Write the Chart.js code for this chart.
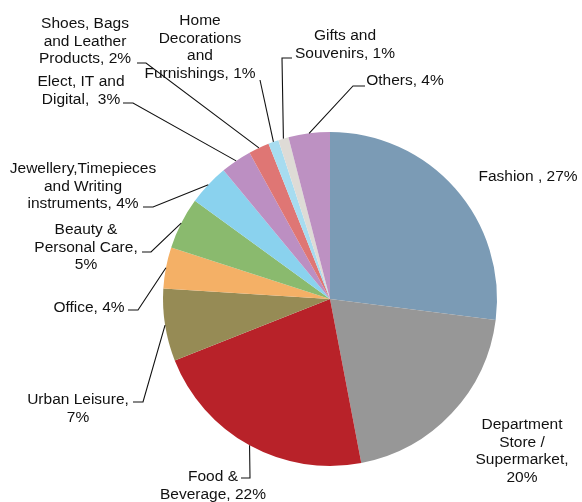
<!DOCTYPE html>
<html lang="en">
<head>
    <meta charset="UTF-8">
    <title>Retail mix</title>
    <script src="https://cdn.jsdelivr.net/npm/chart.js"></script>
    <style>
        body { margin: 0; background: #fff; }
        #wrap { width: 582px; height: 502px; }
    </style>
</head>
<body>
    <div id="wrap"><canvas id="grafico1" width="582" height="502"></canvas></div>

    <script>
        // categories and shares (%), clockwise from 12 o'clock
        const categorias = [
            "Fashion", "Department Store / Supermarket", "Food & Beverage", "Urban Leisure",
            "Office", "Beauty & Personal Care", "Jewellery,Timepieces and Writing instruments",
            "Elect, IT and Digital", "Shoes, Bags and Leather Products",
            "Home Decorations and Furnishings", "Gifts and Souvenirs", "Others"
        ];
        const valores = [27, 20, 22, 7, 4, 5, 4, 3, 2, 1, 1, 4];
        const cores = [
            "#7b9bb5", "#979797", "#b82229", "#968b55", "#f4b066", "#8aba6e",
            "#8ad2ee", "#bc8fc2", "#df7674", "#a7dcf0", "#dedbd6", "#bd91c2"
        ];

        // label text lines; the value is appended to the last line
        const rotulos = [
            ["Fashion , "],
            ["Department", "Store /", "Supermarket,", ""],
            ["Food &", "Beverage, "],
            ["Urban Leisure,", ""],
            ["Office, "],
            ["Beauty &", "Personal Care,", ""],
            ["Jewellery,Timepieces", "and Writing", "instruments, "],
            ["Elect, IT and", "Digital,  "],
            ["Shoes, Bags", "and Leather", "Products, "],
            ["Home", "Decorations", "and", "Furnishings, "],
            ["Gifts and", "Souvenirs, "],
            ["Others, "]
        ];

        // text centre x, first line y, leader elbow and tick end (null = no leader)
        const posRotulos = [
            { x: 528, y: 177, elbow: null },
            { x: 522, y: 425, elbow: null },
            { x: 213, y: 477, elbow: [250, 478], tick: [241, 478] },
            { x: 78,  y: 400, elbow: [143, 402], tick: [133, 402] },
            { x: 89,  y: 308, elbow: [138, 310], tick: [128, 310] },
            { x: 86,  y: 230, elbow: [151, 252], tick: [142, 252] },
            { x: 83,  y: 169, elbow: [153, 207], tick: [143, 207] },
            { x: 81,  y: 82,  elbow: [133, 103], tick: [123, 103] },
            { x: 85,  y: 24,  elbow: [146, 63],  tick: [137, 63] },
            { x: 200, y: 21,  elbow: [260, 80],  tick: null },
            { x: 345, y: 36,  elbow: [282, 58],  tick: [292, 58] },
            { x: 405, y: 81,  elbow: [353, 86],  tick: [365, 86] }
        ];

        const rotulosPlugin = {
            id: 'rotulos',
            afterDraw(chart) {
                const ctx = chart.ctx;
                const arcs = chart.getDatasetMeta(0).data;
                ctx.save();
                ctx.font = '15.5px "Liberation Sans", Arial, sans-serif';
                ctx.fillStyle = '#111';
                ctx.strokeStyle = '#111';
                ctx.lineWidth = 1.1;
                ctx.textAlign = 'center';
                ctx.textBaseline = 'middle';
                arcs.forEach((arc, i) => {
                    const p = posRotulos[i];
                    const linhas = rotulos[i].slice();
                    linhas[linhas.length - 1] += valores[i] + '%';
                    linhas.forEach((l, k) => ctx.fillText(l, p.x, p.y + k * 17.6));

                    if (p.elbow) {
                        const { x, y, startAngle, endAngle, outerRadius } = arc.getProps(['x', 'y', 'startAngle', 'endAngle', 'outerRadius']);
                        const mid = (startAngle + endAngle) / 2;
                        ctx.beginPath();
                        ctx.moveTo(x + Math.cos(mid) * outerRadius, y + Math.sin(mid) * outerRadius);
                        ctx.lineTo(p.elbow[0], p.elbow[1]);
                        if (p.tick) ctx.lineTo(p.tick[0], p.tick[1]);
                        ctx.stroke();
                    }
                });
                ctx.restore();
            }
        };

        const ctx = document.getElementById('grafico1');

        new Chart(ctx, {
            type: 'pie',
            data: {
                labels: categorias,
                datasets: [{
                    data: valores,
                    backgroundColor: cores,
                    borderWidth: 0
                }]
            },
            options: {
                responsive: false,
                animation: false,
                layout: { padding: { left: 163, right: 85, top: 132, bottom: 36 } },
                plugins: {
                    legend: { display: false },
                    tooltip: { enabled: false }
                }
            },
            plugins: [rotulosPlugin]
        });
    </script>
</body>
</html>
